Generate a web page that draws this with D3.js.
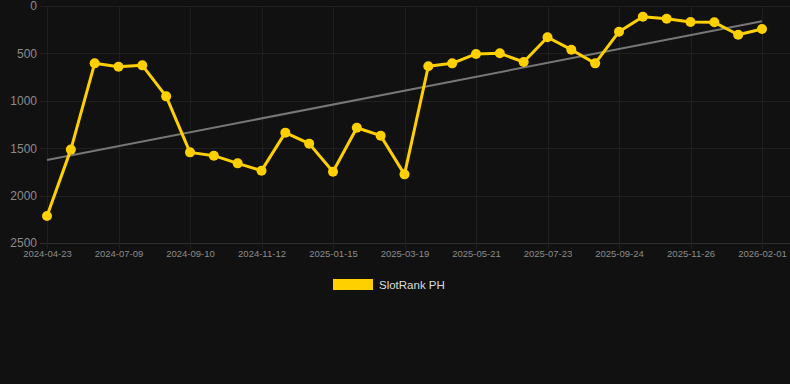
<!DOCTYPE html>
<html lang="en">
<head>
    <script src="https://d3js.org/d3.v7.min.js"></script>
    <style>
        body { margin: 0; background: #111111; }
        svg { display: block; font-family: "Liberation Sans", Arial, sans-serif; }
    </style>
</head>
<body>
<div id="chart"></div>
<script>
    // dates of each rank snapshot (only every third one is labelled)
    const dates = [
        "2024-04-23", "2024-05-19", "2024-06-14",
        "2024-07-09", "2024-07-30", "2024-08-20",
        "2024-09-10", "2024-10-01", "2024-10-22",
        "2024-11-12", "2024-12-03", "2024-12-24",
        "2025-01-15", "2025-02-05", "2025-02-26",
        "2025-03-19", "2025-04-09", "2025-04-30",
        "2025-05-21", "2025-06-11", "2025-07-02",
        "2025-07-23", "2025-08-13", "2025-09-03",
        "2025-09-24", "2025-10-15", "2025-11-05",
        "2025-11-26", "2025-12-18", "2026-01-09",
        "2026-02-01"
    ]
    const ranks = [
        2215, 1515, 605, 640, 626, 953, 1544, 1579, 1660, 1737,
        1336, 1452, 1748, 1284, 1368, 1776, 636, 605, 506, 499,
        591, 330, 461, 605, 271, 113, 134, 169, 172, 303, 243
    ]
    const yTicks = [0, 500, 1000, 1500, 2000, 2500]
    const seriesName = "SlotRank PH"

    const width = 790
    const height = 384
    const plotTop = 6, plotBottom = 243, plotLeft = 40, plotRight = 790

    const svg = d3.select("#chart").append("svg")
        .attr("width", width)
        .attr("height", height)

    svg.append("rect").attr("width", width).attr("height", height).attr("fill", "#111111")

    const xScale = d3.scalePoint().domain(dates).range([47, 762])
    const yScale = d3.scaleLinear().domain([0, 2500]).range([plotTop, plotBottom])

    // horizontal grid
    svg.append("g")
        .selectAll("line")
        .data(yTicks)
        .join("line")
        .attr("x1", plotLeft)
        .attr("x2", plotRight)
        .attr("y1", d => Math.round(yScale(d)) + 0.5)
        .attr("y2", d => Math.round(yScale(d)) + 0.5)
        .attr("stroke", d => d == 2500 ? "#2e2e2e" : "#1f1f1f")
        .attr("stroke-width", 1)

    const labelled = dates.filter((d, i) => i % 3 == 0)

    // vertical grid
    svg.append("g")
        .selectAll("line")
        .data(labelled)
        .join("line")
        .attr("x1", d => Math.round(xScale(d)) + 0.5)
        .attr("x2", d => Math.round(xScale(d)) + 0.5)
        .attr("y1", plotTop)
        .attr("y2", plotBottom + 6)
        .attr("stroke", "#1f1f1f")

    // y axis labels
    const yAxis = d3.axisLeft(yScale).tickValues(yTicks).tickFormat(d3.format("d")).tickSize(0).tickPadding(0)
    svg.append("g")
        .attr("transform", "translate(37,0)")
        .call(yAxis)
        .call(g => g.select(".domain").remove())
        .call(g => g.selectAll("text")
            .attr("fill", "#8c8c8c")
            .style("font-size", "12px")
            .style("font-family", "Liberation Sans, Arial, sans-serif"))

    // x axis labels
    const xAxis = d3.axisBottom(xScale).tickValues(labelled).tickSize(0).tickPadding(0)
    svg.append("g")
        .attr("transform", "translate(0," + (plotBottom + 11) + ")")
        .call(xAxis)
        .call(g => g.select(".domain").remove())
        .call(g => g.selectAll("text")
            .attr("dy", "0.3em")
            .attr("fill", "#8c8c8c")
            .style("font-size", "9.5px")
            .style("font-family", "Liberation Sans, Arial, sans-serif"))

    // trend line (least squares on index)
    const n = ranks.length
    const mx = d3.mean(ranks, (d, i) => i)
    const my = d3.mean(ranks)
    const slope = d3.sum(ranks, (d, i) => (i - mx) * (d - my)) / d3.sum(ranks, (d, i) => (i - mx) * (i - mx))
    const icpt = my - slope * mx
    svg.append("line")
        .attr("x1", xScale(dates[0]))
        .attr("y1", yScale(icpt))
        .attr("x2", xScale(dates[n - 1]))
        .attr("y2", yScale(icpt + slope * (n - 1)))
        .attr("stroke", "#777777")
        .attr("stroke-width", 2)

    const line = d3.line()
        .x((d, i) => xScale(dates[i]))
        .y(d => yScale(d))

    svg.append("path")
        .datum(ranks)
        .attr("fill", "none")
        .attr("stroke", "#ffd000")
        .attr("stroke-width", 3)
        .attr("stroke-linejoin", "round")
        .attr("d", line)

    svg.selectAll("circle")
        .data(ranks)
        .join("circle")
        .attr("cx", (d, i) => xScale(dates[i]))
        .attr("cy", d => yScale(d))
        .attr("r", 5)
        .attr("fill", "#ffd000")

    // legend
    const legend = svg.append("g").attr("transform", "translate(333,279)")
    legend.append("rect")
        .attr("width", 40)
        .attr("height", 11)
        .attr("fill", "#ffd000")
    legend.append("text")
        .attr("x", 46)
        .attr("y", 9.5)
        .attr("fill", "#dddddd")
        .style("font-size", "11.5px")
        .text(seriesName)
</script>
</body>
</html>
